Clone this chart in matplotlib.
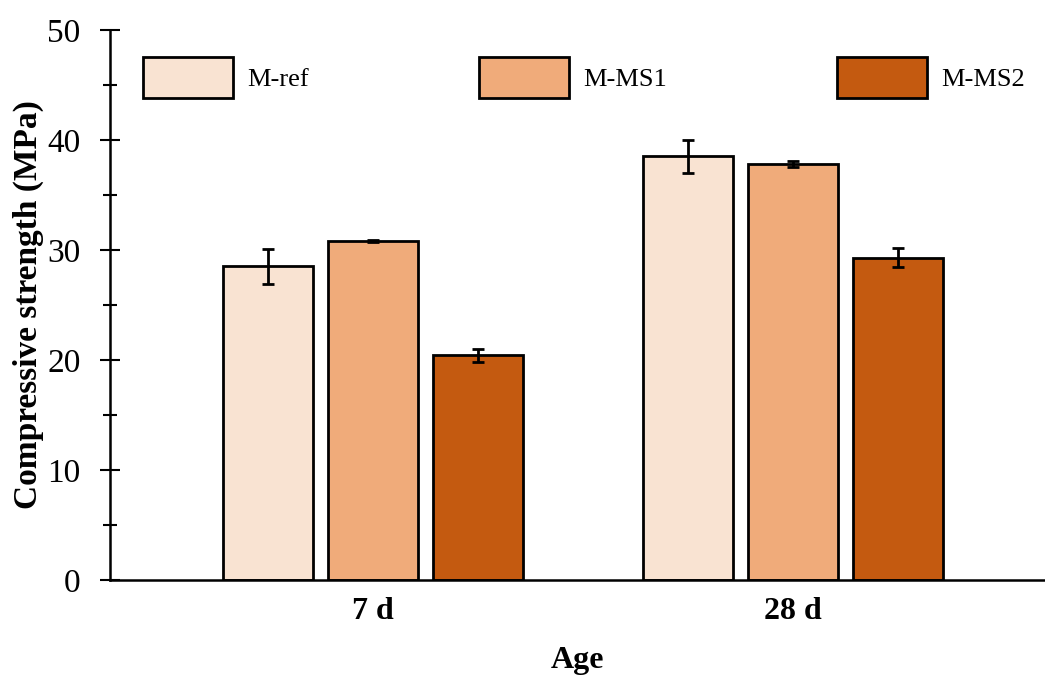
import matplotlib.pyplot as plt
import numpy as np
from matplotlib.ticker import MultipleLocator

ages = ["7 d", "28 d"]
mixes = ["M-ref", "M-MS1", "M-MS2"]
strength = [[28.5, 38.5], [30.8, 37.8], [20.4, 29.3]]
errors = [[1.6, 1.5], [0.1, 0.25], [0.55, 0.85]]
colors = ["#F9E3D2", "#F0AB7A", "#C45A10"]

plt.rcParams['font.family'] = ['Liberation Serif', 'DejaVu Serif']

fig = plt.figure(figsize=(10.45, 6.79), dpi=100)
ax = fig.add_axes([0.105, 0.146, 0.895, 0.81])

x = np.arange(len(ages))
width = 0.214
step = 0.25
for k in range(len(mixes)):
    ax.bar(x + (k - 1) * step, strength[k], width, yerr=errors[k], color=colors[k],
           edgecolor='black', linewidth=2, label=mixes[k],
           error_kw=dict(ecolor='black', elinewidth=2, capsize=4.5, capthick=2))

ax.set_xlim(-0.626, 1.6)
ax.set_ylim(0, 50)
ax.set_xticks(x)
ax.set_xticklabels(ages, fontsize=23, fontweight='bold')
ax.yaxis.set_major_locator(MultipleLocator(10))
ax.yaxis.set_minor_locator(MultipleLocator(5))
ax.tick_params(axis='y', which='major', direction='inout', length=14, width=1.5, labelsize=24, pad=14)
ax.tick_params(axis='y', which='minor', direction='inout', length=10, width=1.5)
ax.tick_params(axis='x', length=0, pad=12)
for s in ['top', 'right']:
    ax.spines[s].set_visible(False)
for s in ['left', 'bottom']:
    ax.spines[s].set_linewidth(1.8)

ax.set_ylabel("Compressive strength (MPa)", fontsize=24, fontweight='bold', labelpad=2)
ax.set_xlabel("Age", fontsize=23, fontweight='bold', labelpad=15)

ax.legend(loc='upper left', bbox_to_anchor=(0.010, 0.994), ncol=3, frameon=False,
          fontsize=19, handlelength=3.4, handleheight=2.0, columnspacing=6.45,
          handletextpad=0.55)

fig.savefig("out.png", dpi=100)
